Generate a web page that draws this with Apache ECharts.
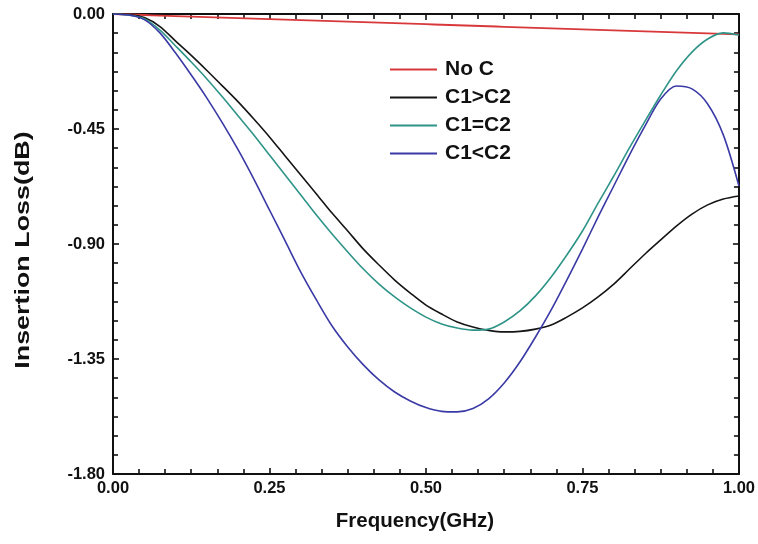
<!DOCTYPE html>
<html>
<head>
<meta charset="utf-8">
<script src="https://cdn.jsdelivr.net/npm/echarts@6/dist/echarts.min.js"></script>
<style>
  html, body { margin: 0; padding: 0; background: #ffffff; }
  #chart { width: 758px; height: 544px; }
</style>
</head>
<body>
<div id="chart"></div>
<script>
// Frequency sample points (GHz), 0 to 1 in 0.025 steps
const freq = [0, 0.025, 0.05, 0.075, 0.10, 0.125, 0.15, 0.175, 0.20, 0.225,
              0.25, 0.275, 0.30, 0.325, 0.35, 0.375, 0.40, 0.425, 0.45, 0.475,
              0.50, 0.525, 0.55, 0.575, 0.60, 0.625, 0.65, 0.675, 0.70, 0.725,
              0.75, 0.775, 0.80, 0.825, 0.85, 0.875, 0.90, 0.925, 0.95, 0.975, 1.00];

// Insertion loss (dB) for each capacitor configuration
const noC = [0, -0.002, -0.004, -0.006, -0.008, -0.010, -0.012, -0.014, -0.016, -0.018,
             -0.020, -0.022, -0.024, -0.026, -0.028, -0.030, -0.032, -0.034, -0.036, -0.038,
             -0.040, -0.042, -0.044, -0.046, -0.048, -0.050, -0.052, -0.054, -0.056, -0.058,
             -0.060, -0.062, -0.064, -0.066, -0.068, -0.070, -0.072, -0.074, -0.076, -0.078, -0.080];
const c1gtc2 = [0, -0.002, -0.014, -0.049, -0.106, -0.162, -0.221, -0.282, -0.344, -0.411,
                -0.481, -0.556, -0.630, -0.704, -0.779, -0.849, -0.920, -0.982, -1.041, -1.092,
                -1.139, -1.174, -1.205, -1.225, -1.238, -1.244, -1.242, -1.233, -1.217, -1.186,
                -1.150, -1.107, -1.057, -0.998, -0.939, -0.884, -0.830, -0.783, -0.747, -0.724, -0.712];
const c1eqc2 = [0, -0.004, -0.018, -0.063, -0.125, -0.188, -0.254, -0.325, -0.399, -0.473,
                -0.552, -0.630, -0.708, -0.787, -0.861, -0.931, -0.998, -1.057, -1.107, -1.150,
                -1.186, -1.213, -1.229, -1.237, -1.233, -1.205, -1.162, -1.103, -1.029, -0.943,
                -0.849, -0.740, -0.634, -0.524, -0.419, -0.317, -0.223, -0.149, -0.098, -0.074, -0.082];
const c1ltc2 = [0, -0.004, -0.022, -0.074, -0.153, -0.239, -0.329, -0.427, -0.532, -0.646,
                -0.767, -0.888, -1.010, -1.119, -1.221, -1.303, -1.373, -1.432, -1.479, -1.514,
                -1.540, -1.555, -1.557, -1.544, -1.506, -1.444, -1.362, -1.264, -1.158, -1.041,
                -0.920, -0.794, -0.673, -0.552, -0.438, -0.333, -0.282, -0.293, -0.352, -0.473, -0.673];

// Axis tick values
const xTicks = [0, 0.25, 0.5, 0.75, 1.0];
const yTicks = [-1.8, -1.35, -0.9, -0.45, 0];

const seriesNames = ['No C', 'C1>C2', 'C1=C2', 'C1<C2'];
const seriesData = [noC, c1gtc2, c1eqc2, c1ltc2];
const seriesColors = ['#d8383a', '#151515', '#2f9488', '#3a3aa6'];

const FONT = '"Liberation Sans", Arial, sans-serif';

const chart = echarts.init(document.getElementById('chart'), null, { renderer: 'canvas' });

const tickStyle = { show: true, inside: true, length: 6, lineStyle: { color: '#111', width: 1.6 } };
const minorStyle = { show: true, splitNumber: 6, length: 5, lineStyle: { color: '#111', width: 1.6 } };
const axisLineStyle = { show: true, onZero: false, lineStyle: { color: '#111', width: 2 } };
const fmt = v => (Math.abs(v) < 1e-9 ? 0 : v).toFixed(2);

const xStep = xTicks[1] - xTicks[0];
const yStep = yTicks[1] - yTicks[0];

chart.setOption({
  animation: false,
  backgroundColor: '#ffffff',
  grid: { left: 113, top: 14, right: 19, bottom: 70, containLabel: false },
  legend: {
    orient: 'vertical',
    left: 390,
    top: 59,
    padding: 0,
    icon: 'rect',
    itemWidth: 47,
    itemHeight: 2,
    itemGap: 7,
    data: seriesNames,
    textStyle: { fontFamily: FONT, fontWeight: 'bold', fontSize: 21, color: '#111',
                 padding: [0, 0, 0, 3] }
  },
  graphic: [
    {
      type: 'text', x: 415, y: 521,
      style: { text: 'Frequency(GHz)', font: 'bold 20.5px ' + FONT, fill: '#111',
               textAlign: 'center', textVerticalAlign: 'middle' }
    },
    {
      type: 'text', x: 23, y: 250, rotation: Math.PI / 2, scaleX: 1.28,
      style: { text: 'Insertion Loss(dB)', font: 'bold 21px ' + FONT, fill: '#111',
               textAlign: 'center', textVerticalAlign: 'middle' }
    }
  ],
  xAxis: [
    {
      type: 'value', min: xTicks[0], max: xTicks[xTicks.length - 1], interval: xStep, position: 'bottom',
      axisLine: axisLineStyle, axisTick: tickStyle, minorTick: minorStyle,
      splitLine: { show: false },
      axisLabel: { fontFamily: FONT, fontWeight: 'bold', fontSize: 16.5, color: '#111', margin: 6,
                   formatter: fmt }
    },
    {
      type: 'value', min: xTicks[0], max: xTicks[xTicks.length - 1], interval: xStep, position: 'top',
      axisLine: axisLineStyle, axisTick: tickStyle, minorTick: minorStyle,
      splitLine: { show: false }, axisLabel: { show: false }
    }
  ],
  yAxis: [
    {
      type: 'value', min: yTicks[0], max: yTicks[yTicks.length - 1], interval: yStep, position: 'left',
      axisLine: axisLineStyle, axisTick: tickStyle, minorTick: minorStyle,
      splitLine: { show: false },
      axisLabel: { fontFamily: FONT, fontWeight: 'bold', fontSize: 16.5, color: '#111', margin: 8,
                   formatter: fmt }
    },
    {
      type: 'value', min: yTicks[0], max: yTicks[yTicks.length - 1], interval: yStep, position: 'right',
      axisLine: axisLineStyle, axisTick: tickStyle, minorTick: minorStyle,
      splitLine: { show: false }, axisLabel: { show: false }
    }
  ],
  series: seriesNames.map((name, i) => ({
    name: name,
    type: 'line',
    xAxisIndex: 0,
    yAxisIndex: 0,
    smooth: 0.3,
    symbol: 'none',
    clip: true,
    z: 3 + i,
    lineStyle: { color: seriesColors[i], width: i === 0 ? 1.8 : 1.6 },
    itemStyle: { color: seriesColors[i] },
    data: freq.map((f, k) => [f, seriesData[i][k]])
  }))
});
</script>
</body>
</html>
